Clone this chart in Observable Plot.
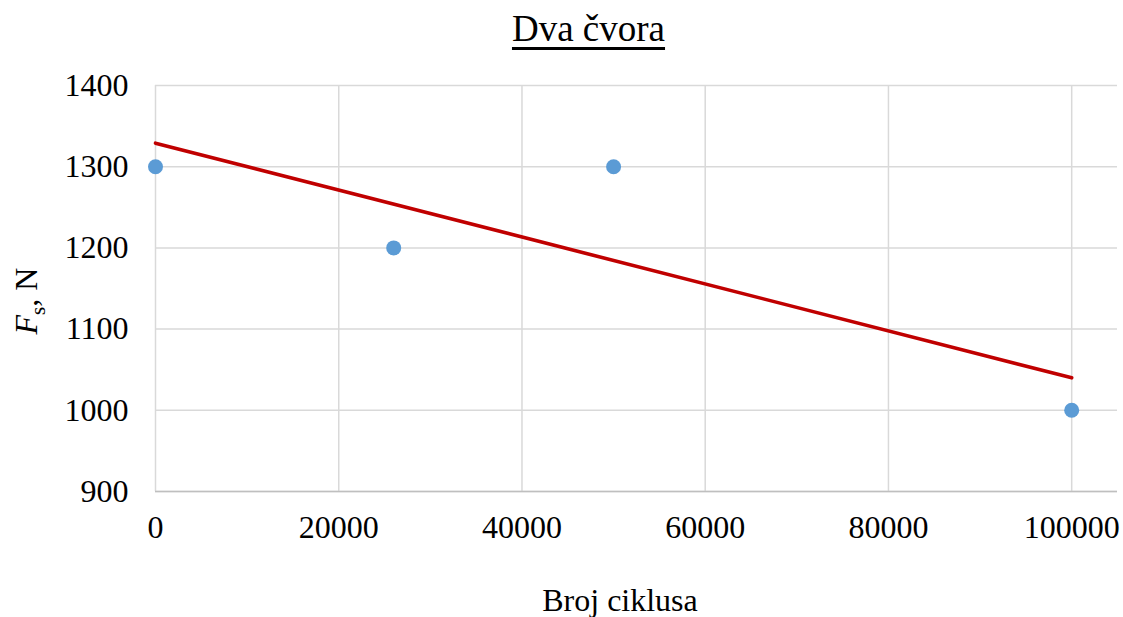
<!DOCTYPE html>
<html>
<head>
<meta charset="utf-8">
<script src="https://cdn.jsdelivr.net/npm/d3@7"></script>
<script src="https://cdn.jsdelivr.net/npm/@observablehq/plot@0.6"></script>
<style>
  html, body { margin: 0; padding: 0; background: #fff; }
  #wrap { position: relative; width: 1123px; height: 617px; }
  #title {
    position: absolute; left: 588.5px; top: 10px; transform: translateX(-50%);
    font-family: "Liberation Serif", "DejaVu Serif", serif; font-size: 37px;
    text-decoration: underline; text-decoration-thickness: 2.5px; text-underline-offset: 6px;
    color: #000; white-space: nowrap; line-height: 1;
  }
  svg text { font-family: "Liberation Serif", "DejaVu Serif", serif !important; }
</style>
</head>
<body>
<div id="wrap"><div id="title">Dva čvora</div></div>
<script>
const cycles = [0, 26000, 50000, 100000];
const force = [1300, 1200, 1300, 1000];
const trendCycles = [0, 100000];
const trendForce = [1329, 1040];
const xTicks = [0, 20000, 40000, 60000, 80000, 100000];
const yTicks = [900, 1000, 1100, 1200, 1300, 1400];

const points = cycles.map((c, i) => ({x: c, y: force[i]}));
const trend = trendCycles.map((c, i) => ({x: c, y: trendForce[i]}));

const font = '"Liberation Serif", "DejaVu Serif", serif';

const chart = Plot.plot({
  width: 1123,
  height: 617,
  marginTop: 85,
  marginBottom: 126,
  marginLeft: 155,
  marginRight: 6,
  style: {fontFamily: font, fontSize: "32px", color: "#000", background: "#fff"},
  x: {domain: [0, 105000]},
  y: {domain: [900, 1400]},
  marks: [
    Plot.gridX(xTicks, {stroke: "#d9d9d9", strokeOpacity: 1, strokeWidth: 1.5}),
    Plot.gridY(yTicks, {stroke: "#d9d9d9", strokeOpacity: 1, strokeWidth: 1.5}),
    Plot.ruleY([900], {stroke: "#bfbfbf", strokeWidth: 1.5}),
    Plot.axisX({ticks: xTicks, tickSize: 0, tickPadding: 24, tickFormat: d => String(d), label: null, fontSize: 32}),
    Plot.axisY({ticks: yTicks, tickSize: 0, tickPadding: 27, tickFormat: d => String(d), label: null, fontSize: 32}),
    Plot.line(trend, {x: "x", y: "y", stroke: "#c00000", strokeWidth: 3.6}),
    Plot.dot(points, {x: "x", y: "y", r: 7.5, fill: "#5b9bd5", stroke: "none"})
  ]
});

const svg = d3.select(chart);
svg.append("text")
  .attr("x", 620).attr("y", 611)
  .attr("text-anchor", "middle")
  .attr("font-family", font).attr("font-size", 32).attr("fill", "#000")
  .text("Broj ciklusa");

const yl = svg.append("text")
  .attr("transform", "translate(37,301) rotate(-90)")
  .attr("text-anchor", "middle")
  .attr("font-family", font).attr("font-size", 32).attr("fill", "#000");
yl.append("tspan").attr("font-style", "italic").text("F");
yl.append("tspan").attr("font-size", 21).attr("dy", 8).text("s");
yl.append("tspan").attr("dy", -8).text(", N");

document.getElementById("wrap").appendChild(chart);
chart.style.position = "absolute";
chart.style.left = "0";
chart.style.top = "0";
document.getElementById("title").style.zIndex = 2;
</script>
</body>
</html>
